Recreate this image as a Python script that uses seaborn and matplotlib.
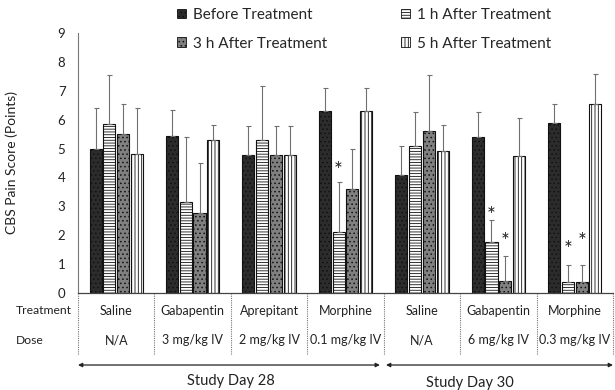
import numpy as np
import pandas as pd
import matplotlib
matplotlib.use("Agg")
import matplotlib.pyplot as plt
import seaborn as sns
from matplotlib.patches import Patch
from matplotlib.transforms import blended_transform_factory, offset_copy

# ---------------- data ----------------
groups = ["D28 Saline", "D28 Gabapentin", "D28 Aprepitant", "D28 Morphine",
          "D30 Saline", "D30 Gabapentin", "D30 Morphine"]
treatments = ["Saline", "Gabapentin", "Aprepitant", "Morphine", "Saline", "Gabapentin", "Morphine"]
doses = ["N/A", "3 mg/kg IV", "2 mg/kg IV", "0.1 mg/kg IV", "N/A", "6 mg/kg IV", "0.3 mg/kg IV"]
timepoints = ["Before Treatment", "1 h After Treatment", "3 h After Treatment", "5 h After Treatment"]

before = [5.00, 5.45, 4.78, 6.29, 4.08, 5.39, 5.90]
after_1h = [5.85, 3.15, 5.30, 2.11, 5.10, 1.77, 0.39]
after_3h = [5.50, 2.78, 4.78, 3.61, 5.60, 0.41, 0.39]
after_5h = [4.82, 5.30, 4.78, 6.29, 4.90, 4.74, 6.55]

sd_before = [1.41, 0.87, 0.99, 0.80, 1.01, 0.87, 0.63]
sd_1h = [1.70, 2.25, 1.86, 1.73, 1.16, 0.75, 0.58]
sd_3h = [1.03, 1.72, 0.99, 1.36, 1.96, 0.87, 0.58]
sd_5h = [1.59, 0.50, 0.99, 0.80, 0.90, 1.33, 1.04]

nan = np.nan
star_1h = [nan, nan, nan, 4.33, nan, 2.77, 1.62]
star_3h = [nan, nan, nan, nan, nan, 1.89, 1.90]

study_days = ["Study Day 28", "Study Day 30"]

# ---------------- build frame ----------------
values = [before, after_1h, after_3h, after_5h]
sds = [sd_before, sd_1h, sd_3h, sd_5h]
stars = [[nan] * 7, star_1h, star_3h, [nan] * 7]
rows = []
for t, vals in zip(timepoints, values):
    for g, v in zip(groups, vals):
        rows.append({"group": g, "time": t, "score": v})
df = pd.DataFrame(rows)

# ---------------- style ----------------
sns.set_style("white")
plt.rcParams["font.family"] = ["Lato", "DejaVu Sans"]
plt.rcParams["hatch.linewidth"] = 0.6

face = ["#2c2c2c", "white", "#808080", "white"]
hatches = ["....", "------", "....", "|||||"]

fig = plt.figure(figsize=(6.15, 3.9), dpi=100)
ax = fig.add_axes([78 / 615, 97 / 390, 535 / 615, 260 / 390])

sns.barplot(data=df, x="group", y="score", hue="time", order=groups,
            hue_order=timepoints, palette=face, errorbar=None,
            width=0.72, gap=0.12, legend=False, ax=ax, saturation=1)

star_trans = offset_copy(ax.transData, fig=fig, x=0, y=-3.5, units="dots")

bar_containers = list(ax.containers)
for k, cont in enumerate(bar_containers):
    for i, bar in enumerate(cont.patches):
        bar.set_facecolor(face[k])
        bar.set_hatch(hatches[k])
        bar.set_edgecolor("#111111")
        bar.set_linewidth(0.8)
        xc = bar.get_x() + bar.get_width() / 2
        h = bar.get_height()
        ax.errorbar(xc, h, yerr=[[0], [sds[k][i]]], fmt="none",
                    ecolor="#707070", elinewidth=0.8, capsize=1.8,
                    capthick=0.8, zorder=1)
        if not np.isnan(stars[k][i]):
            ax.text(xc, stars[k][i], "*", ha="center", va="center",
                    fontsize=15, color="#222222", transform=star_trans)

ax.set_xlim(-0.5, 6.5)
ax.set_ylim(0, 9)
ax.set_yticks(range(0, 10))
ax.set_xticks([])
ax.set_xlabel("")
ax.tick_params(axis="y", length=0, pad=9, labelsize=9.5, labelcolor="#222222")
ax.set_ylabel("CBS Pain Score (Points)", fontsize=10, color="#222222")
ax.yaxis.set_label_coords(-0.112, 0.5)
for s in ["top", "right"]:
    ax.spines[s].set_visible(False)
ax.spines["left"].set_color("#777777")
ax.spines["left"].set_linewidth(0.8)
ax.spines["bottom"].set_color("#444444")
ax.spines["bottom"].set_linewidth(0.9)

trans = blended_transform_factory(ax.transData, ax.transAxes)

# table separators
for k in range(len(groups) + 1):
    x = k - 0.5
    ax.plot([x, x], [0, -0.238], transform=trans, clip_on=False,
            color="#777777", lw=0.8, ls=(0, (1, 1)))

# table text
for i, (t, d) in enumerate(zip(treatments, doses)):
    ax.text(i, -0.069, t, transform=trans, ha="center", va="center",
            fontsize=9, color="#222222")
    ax.text(i, -0.181, d, transform=trans, ha="center", va="center",
            fontsize=9, color="#222222")
fig.text(16 / 615, 1 - 311 / 390, "Treatment", ha="left", va="center",
         fontsize=8.7, color="#222222")
fig.text(16 / 615, 1 - 340 / 390, "Dose", ha="left", va="center",
         fontsize=8.7, color="#222222")

# study day arrows
ya = -0.277
ax.annotate("", xy=(-0.5, ya), xytext=(3.45, ya), xycoords=trans,
            textcoords=trans, annotation_clip=False,
            arrowprops=dict(arrowstyle="<|-|>", color="#222222", lw=0.9,
                            mutation_scale=6, shrinkA=0, shrinkB=0))
ax.annotate("", xy=(3.53, ya), xytext=(6.5, ya), xycoords=trans,
            textcoords=trans, annotation_clip=False,
            arrowprops=dict(arrowstyle="<|-|>", color="#222222", lw=0.9,
                            mutation_scale=6, shrinkA=0, shrinkB=0))
ax.text(1.5, -0.338, study_days[0], transform=trans, ha="center", va="center",
        fontsize=10.5, color="#222222")
ax.text(4.63, -0.346, study_days[1], transform=trans, ha="center", va="center",
        fontsize=10.5, color="#222222")

# legend
handles = [Patch(facecolor=face[k], edgecolor="#111111", hatch=hatches[k],
                 linewidth=0.6, label=timepoints[k]) for k in range(4)]
order = [0, 2, 1, 3]
fig.legend([handles[k] for k in order], [timepoints[k] for k in order],
           ncol=2, loc="upper left", bbox_to_anchor=(177 / 615, 1 - 8 / 390),
           frameon=False, fontsize=11, handlelength=0.6, handleheight=0.6,
           handletextpad=0.45, columnspacing=4.85, labelspacing=0.95,
           borderaxespad=0, borderpad=0)

fig.savefig("out.png", dpi=100)
